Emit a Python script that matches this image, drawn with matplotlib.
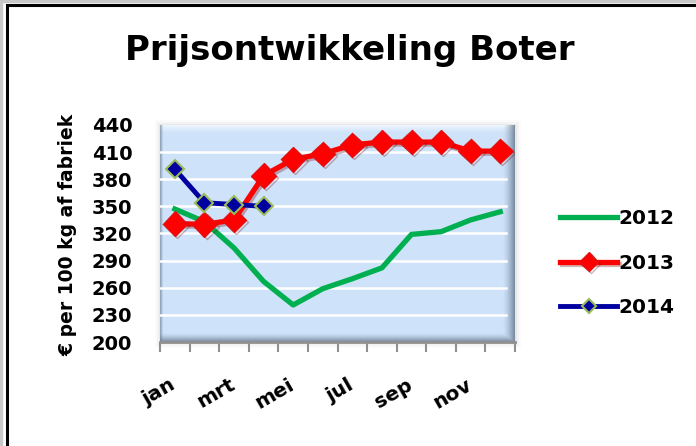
import matplotlib.pyplot as plt
import matplotlib.patches as mpatches
import matplotlib.patheffects as pe
import matplotlib.transforms as mtransforms
import numpy as np

plt.rcParams['font.family'] = ['DejaVu Sans']
plt.rcParams['font.weight'] = 'bold'

months = ["jan", "feb", "mrt", "apr", "mei", "jun", "jul", "aug", "sep", "okt", "nov", "dec"]
shown_months = ["jan", "mrt", "mei", "jul", "sep", "nov"]

prices_2012 = [347, 333, 304, 267, 241, 259, 270, 282, 319, 322, 335, 344]
prices_2013 = [331, 330, 335, 384, 402, 408, 418, 421, 421, 421, 411, 411]
prices_2014 = [391, 354, 352, 350]

y_ticks = [200, 230, 260, 290, 320, 350, 380, 410, 440]

fig = plt.figure(figsize=(6.96, 4.46), dpi=100)
ax = fig.add_axes([0.230, 0.233, 0.510, 0.487])

x = np.arange(len(months))

# plot area background with a bevelled edge (pixel grid of the axes)
H, W = 218, 355
yy, xx = np.mgrid[0:H, 0:W]
img = np.ones((H, W, 3)) * np.array([0.81, 0.89, 0.98])
dark = np.array([0.42, 0.49, 0.57])
light = np.array([1.0, 1.0, 1.0])
r = np.clip(1 - (W - 1 - xx) / 12.0, 0, 1)[..., None] ** 1.5
b = np.clip(1 - (H - 1 - yy) / 9.0, 0, 1)[..., None] ** 1.5
t = np.clip(1 - yy / 9.0, 0, 1)[..., None] ** 1.5
l = np.clip(1 - xx / 3.0, 0, 1)[..., None]
img = img * (1 - t * 0.8) + light * t * 0.8
img = img * (1 - l * 0.6) + dark * l * 0.6
img = img * (1 - np.maximum(r, b) * 0.85) + dark * np.maximum(r, b) * 0.85
ax.imshow(img, extent=(0, 1, 0, 1), transform=ax.transAxes, aspect='auto', zorder=0,
          interpolation='bilinear')
# soft shadow around the plot area
for i, a in enumerate([0.10, 0.06, 0.03]):
    ax.add_patch(mpatches.Rectangle((0, 0), 1, 1, transform=ax.transAxes, fill=False,
                                    ec='#808080', lw=2 + 3 * i, alpha=a, zorder=-1, clip_on=False))

for yv in y_ticks[1:-1]:
    ax.plot([0.0, 0.975], [yv, yv], color='white', lw=1.8, zorder=1,
            transform=ax.get_yaxis_transform())

ax.plot(x, prices_2012, color='#00b050', lw=3.8, zorder=3, label='2012')
ax.plot(x, prices_2013, color='#ff0000', lw=3.8, marker='D', ms=12.5, mfc='#ff0000', mec='#e41010',
        zorder=4, label='2013',
        path_effects=[pe.SimpleLineShadow(offset=(1.5, -1.5), alpha=0.3, shadow_color='#700000'),
                      pe.Normal()])
ax.plot(x[:len(prices_2014)], prices_2014, color='#0000a0', lw=3.5, marker='D', ms=9,
        mfc='#0000a0', mec='#9bbb59', mew=1.5, zorder=5, label='2014')

ax.set_xlim(-0.5, 11.5)
ax.set_ylim(200, 440)
ax.set_yticks(y_ticks)
ax.tick_params(axis='y', length=0, labelsize=14, pad=20)

ax.set_xticks(x[::2])
ax.set_xticklabels(shown_months, rotation=30, ha='right', rotation_mode='anchor', fontsize=14.5)
ax.set_xticks(np.arange(-0.5, 12, 1), minor=True)
ax.tick_params(axis='x', which='major', length=0, pad=23)
ax.tick_params(axis='x', which='minor', length=7, color='#909090', width=1.5, direction='out')
shift = mtransforms.ScaledTranslation(-5 / 100, -1 / 100, fig.dpi_scale_trans)
for lab in ax.get_xticklabels():
    lab.set_transform(lab.get_transform() + shift)

for s in ['top', 'right', 'left', 'bottom']:
    ax.spines[s].set_visible(False)
ax.plot([0, 1], [0, 0], color='#909090', lw=2, transform=ax.transAxes, clip_on=False, zorder=2)

fig.text(0.503, 0.886, "Prijsontwikkeling Boter", ha='center', va='center', fontsize=24.5,
         fontweight='bold')
fig.text(0.097, 0.473, "€ per 100 kg af fabriek", ha='center', va='center', rotation=90,
         fontsize=13.5, fontweight='bold')

leg = fig.legend(loc='center left', bbox_to_anchor=(0.779, 0.41), frameon=False, fontsize=14.5,
                 handlelength=2.8, handletextpad=0.1, labelspacing=1.25, markerscale=0.8)

# outer frame
fig.add_artist(mpatches.Rectangle((0.0015, -0.01), 1.1, 1.008, transform=fig.transFigure,
                                  fill=False, ec='#c8c8c8', lw=2.5))
fig.add_artist(mpatches.Rectangle((0.0095, -0.01), 1.1, 0.9995, transform=fig.transFigure,
                                  fill=False, ec='black', lw=2.2))

fig.savefig('out.png', dpi=100)
